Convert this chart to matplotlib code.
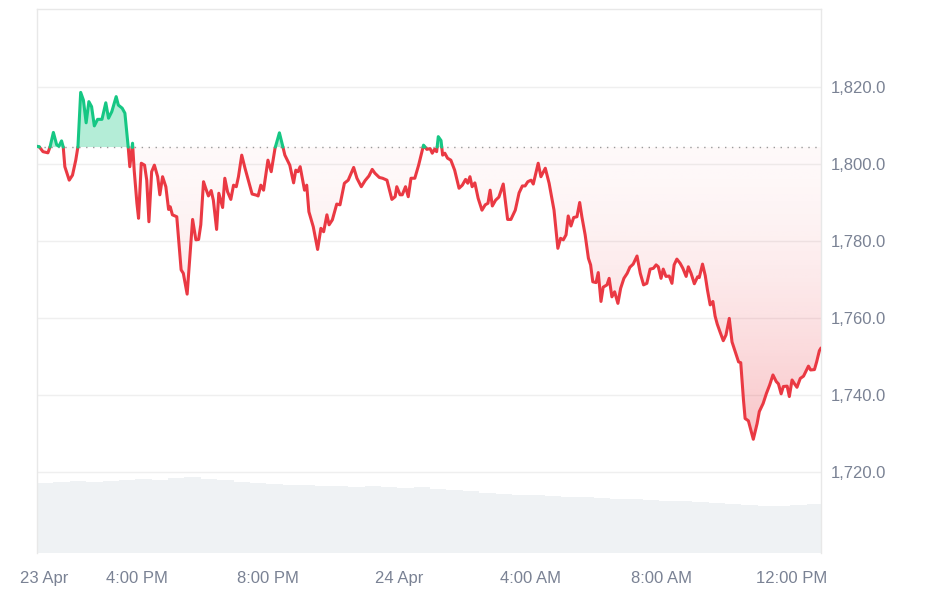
import numpy as np
import pandas as pd
import matplotlib
matplotlib.use("Agg")
import matplotlib.pyplot as plt
from matplotlib.path import Path
from matplotlib.patches import PathPatch

# ---------------- data ----------------
start = pd.Timestamp("2025-04-23 12:57")
minutes = [0, 4, 11, 20, 24, 30, 36, 40, 45, 48, 51, 59, 65, 71, 75, 80, 85, 90, 95, 100,
           105, 111, 119, 126, 131, 137, 145, 149, 156, 161, 167, 170, 175, 178, 183, 186, 191, 197, 201, 205,
           210, 215, 221, 225, 230, 236, 241, 244, 248, 256, 264, 268, 275, 285, 291, 296, 300, 305, 309, 314,
           319, 323, 329, 333, 340, 344, 349, 355, 360, 365, 369, 375, 381, 387, 394, 402, 405, 410, 415, 423,
           429, 436, 444, 451, 454, 463, 470, 474, 478, 482, 490, 494, 498, 506, 514, 520, 525, 531, 535, 541,
           549, 555, 563, 570, 580, 586, 594, 601, 608, 614, 619, 627, 633, 641, 650, 656, 659, 665, 669, 675,
           680, 685, 692, 699, 708, 714, 720, 724, 728, 732, 735, 740, 743, 747, 752, 758, 765, 773, 779, 785,
           789, 793, 797, 802, 808, 815, 821, 826, 830, 834, 840, 846, 854, 862, 868, 876, 883, 889, 894, 899,
           905, 909, 918, 923, 931, 938, 947, 954, 959, 964, 969, 973, 978, 983, 989, 994, 998, 1004, 1010, 1014,
           1018, 1024, 1028, 1033, 1037, 1044, 1048, 1053, 1058, 1064, 1069, 1075, 1081, 1086, 1092, 1099, 1105, 1111, 1117, 1123,
           1129, 1134, 1138, 1143, 1147, 1152, 1158, 1163, 1167, 1172, 1178, 1183, 1189, 1193, 1198, 1204, 1210, 1213, 1219, 1224,
           1228, 1233, 1238, 1242, 1246, 1251, 1257, 1262, 1268, 1273, 1279, 1285, 1289, 1294, 1297, 1303, 1312, 1319, 1323, 1330,
           1336, 1342, 1348, 1354, 1358, 1363, 1367, 1374, 1378, 1383, 1387, 1392, 1398, 1404, 1413, 1417, 1424, 1428, 1433, 1436]
prices = [1804.6, 1804.5, 1803.2, 1802.9, 1804.5, 1808.2, 1805.0, 1804.6, 1806.0, 1804.5, 1799.3, 1795.8, 1797.1, 1801.0, 1804.5, 1818.6, 1816.6, 1810.7, 1816.2, 1814.9,
          1809.9, 1811.6, 1811.6, 1815.9, 1811.9, 1813.6, 1817.5, 1815.3, 1814.5, 1813.2, 1804.5, 1799.3, 1805.4, 1798.4, 1789.8, 1785.9, 1800.2, 1799.7, 1795.8, 1785.0,
          1798.0, 1799.7, 1796.7, 1792.0, 1796.7, 1794.1, 1788.2, 1788.9, 1786.8, 1786.3, 1772.5, 1771.6, 1766.2, 1785.6, 1780.3, 1780.4, 1784.2, 1795.4, 1793.7, 1791.7,
          1793.1, 1790.6, 1783.0, 1792.4, 1788.7, 1796.3, 1792.8, 1790.8, 1794.5, 1794.1, 1796.7, 1802.3, 1798.9, 1795.8, 1792.2, 1791.9, 1791.7, 1794.5, 1793.2, 1801.0,
          1798.0, 1804.1, 1808.1, 1804.1, 1802.3, 1799.7, 1795.1, 1798.4, 1798.0, 1799.3, 1793.2, 1794.5, 1787.6, 1783.7, 1777.8, 1783.3, 1782.4, 1786.8, 1784.2, 1785.5,
          1789.6, 1789.4, 1795.0, 1795.8, 1799.1, 1796.3, 1794.1, 1795.7, 1796.9, 1798.6, 1797.6, 1796.5, 1796.3, 1795.8, 1790.8, 1791.5, 1794.1, 1792.0, 1792.0, 1794.1,
          1791.5, 1796.3, 1796.3, 1799.7, 1804.9, 1803.8, 1804.0, 1802.8, 1803.8, 1803.2, 1807.1, 1806.1, 1802.3, 1802.8, 1801.5, 1801.0, 1798.4, 1793.7, 1794.5, 1796.0,
          1795.0, 1796.7, 1794.1, 1795.1, 1791.1, 1788.0, 1789.4, 1789.8, 1793.2, 1789.1, 1790.6, 1791.4, 1794.8, 1785.6, 1785.6, 1788.0, 1792.5, 1794.3, 1794.3, 1795.4,
          1795.8, 1794.8, 1800.2, 1796.7, 1798.9, 1795.0, 1788.0, 1778.1, 1780.7, 1780.3, 1781.6, 1786.5, 1783.9, 1786.1, 1786.3, 1790.0, 1786.3, 1781.6, 1775.5, 1773.8,
          1769.4, 1769.2, 1771.8, 1764.3, 1768.0, 1768.6, 1770.3, 1765.5, 1766.8, 1763.8, 1767.7, 1770.3, 1771.6, 1773.2, 1774.0, 1776.1, 1771.6, 1768.6, 1769.0, 1772.7,
          1772.9, 1773.8, 1773.3, 1770.3, 1772.7, 1770.8, 1770.9, 1769.0, 1773.8, 1775.3, 1774.2, 1772.9, 1770.8, 1773.3, 1771.6, 1768.9, 1770.7, 1770.5, 1774.0, 1771.0,
          1767.3, 1763.4, 1764.3, 1760.5, 1758.4, 1756.4, 1754.1, 1755.6, 1759.9, 1753.8, 1751.2, 1748.6, 1748.4, 1738.7, 1733.9, 1733.3, 1728.5, 1732.6, 1735.7, 1737.8,
          1740.4, 1742.6, 1745.2, 1743.5, 1742.9, 1740.3, 1742.2, 1742.3, 1739.6, 1743.9, 1743.0, 1742.0, 1744.3, 1744.9, 1747.5, 1746.5, 1746.6, 1748.6, 1751.5, 1752.2]
baseline = 1804.4

# 24h volume (half-hour steps), billions USD
volume = [14.0, 14.2, 14.4, 14.2, 14.4, 14.6, 14.8, 14.6, 15.0, 15.2, 14.8, 14.6, 14.2, 14.0, 13.8, 13.6,
          13.6, 13.4, 13.4, 13.2, 13.4, 13.2, 13.0, 13.2, 12.8, 12.6, 12.4, 12.0, 11.8, 11.6, 11.6, 11.4,
          11.2, 11.2, 11.0, 10.8, 10.8, 10.6, 10.4, 10.4, 10.2, 10.0, 9.8, 9.6, 9.4, 9.4, 9.6, 9.8]

tick_times = ["2025-04-23 13:10", "2025-04-23 16:00", "2025-04-23 20:00", "2025-04-24 00:00",
              "2025-04-24 04:00", "2025-04-24 08:00", "2025-04-24 12:00"]
tick_labels = ["23 Apr", "4:00 PM", "8:00 PM", "24 Apr", "4:00 AM", "8:00 AM", "12:00 PM"]
y_ticks = [1720, 1740, 1760, 1780, 1800, 1820]

# ---------------- style ----------------
RED = "#ea3943"
GREEN = "#16c784"
TXT = "#7a8294"
GRID = "#efefef"

plt.rcParams["font.family"] = ["Liberation Sans", "DejaVu Sans"]

fig = plt.figure(figsize=(9.39, 5.90), dpi=100)
pos = [37 / 939, 1 - 553 / 590, (821 - 37) / 939, (553 - 9) / 590]
axv = fig.add_axes(pos)
ax = fig.add_axes(pos, sharex=axv)
ax.patch.set_visible(False)

x = np.array(minutes, dtype=float)
y = np.array(prices, dtype=float)
x_end = x[-1]

# volume
vx = np.arange(len(volume)) * 30.0
vx = np.append(vx, x_end)
vv = np.append(volume, volume[-1])
axv.fill_between(vx, 0, vv, step="post", color="#eff2f4", lw=0)
axv.set_ylim(0, 108.8)
axv.set_yticks([])
axv.tick_params(axis="x", length=0, labelbottom=False)
for s in axv.spines.values():
    s.set_visible(False)

# insert baseline crossings for colour split
xs, ys = [x[0]], [y[0]]
for i in range(1, len(x)):
    if (y[i - 1] - baseline) * (y[i] - baseline) < 0:
        t = (baseline - y[i - 1]) / (y[i] - y[i - 1])
        xs.append(x[i - 1] + t * (x[i] - x[i - 1]))
        ys.append(baseline)
    xs.append(x[i])
    ys.append(y[i])
xs = np.array(xs)
ys = np.array(ys)

ymin, ymax = 1698.96, 1840.26

# green fill
ax.fill_between(xs, baseline, ys, where=ys >= baseline, interpolate=True,
                color=GREEN, alpha=0.32, lw=0, zorder=2)

# red gradient fill
poly = ax.fill_between(xs, baseline, ys, where=ys <= baseline, interpolate=True,
                       color="none", lw=0)
clip = Path.make_compound_path(*poly.get_paths())
patch = PathPatch(clip, transform=ax.transData, facecolor="none", edgecolor="none")
ax.add_patch(patch)
ny = 300
yy = np.linspace(ymin, baseline, ny)
s = np.clip((baseline - yy) / (baseline - 1728.0), 0, 1.2)
alpha = 0.03 + 0.27 * s ** 1.5
rgba = np.zeros((ny, 2, 4))
rgba[..., 0] = 234 / 255
rgba[..., 1] = 57 / 255
rgba[..., 2] = 67 / 255
rgba[..., 3] = alpha[:, None]
im = ax.imshow(rgba, extent=[x[0], x_end, ymin, baseline], origin="lower",
               aspect="auto", interpolation="bilinear", zorder=1)
im.set_clip_path(patch)

# line
up = np.where(ys >= baseline, ys, np.nan)
dn = np.where(ys <= baseline, ys, np.nan)
ax.plot(xs, dn, color=RED, lw=2.2, solid_joinstyle="round", solid_capstyle="round", zorder=4)
ax.plot(xs, up, color=GREEN, lw=2.2, solid_joinstyle="round", solid_capstyle="round", zorder=4)

# baseline dotted
ax.axhline(baseline, color="#9a9a9a", lw=1.0, ls=(0, (1, 4)), zorder=3)

ax.set_xlim(x[0], x_end)
ax.set_ylim(ymin, ymax)

ax.yaxis.tick_right()
ax.set_yticks(y_ticks)
ax.set_yticklabels([f"{v:,.1f}" for v in y_ticks])
ax.grid(axis="y", color=GRID, lw=1.0, zorder=0)
ax.set_axisbelow(True)

tpos = (pd.to_datetime(tick_times) - start).total_seconds() / 60.0
ax.set_xticks(np.asarray(tpos))
ax.set_xticklabels(tick_labels)
ax.tick_params(axis="both", length=0, colors=TXT, labelsize=12)
ax.tick_params(axis="x", pad=13)
ax.tick_params(axis="y", pad=7)

for k in ["top", "left", "right"]:
    ax.spines[k].set_color("#e8e8e8")
    ax.spines[k].set_linewidth(1.0)
ax.spines["bottom"].set_visible(False)

fig.savefig("out.png", dpi=100)
